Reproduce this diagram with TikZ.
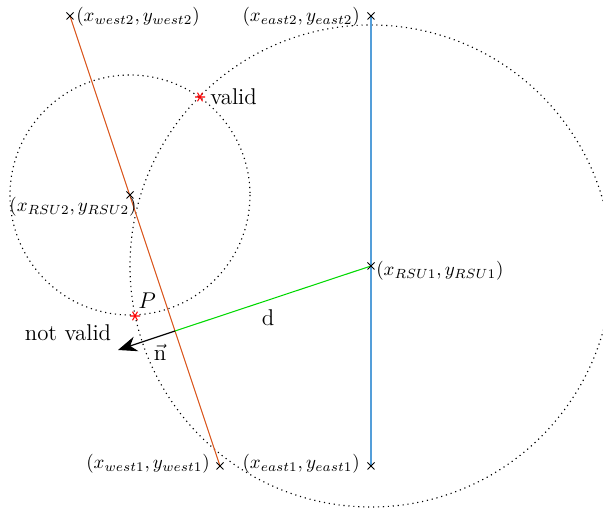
\documentclass[tikz,border=0pt]{standalone}
\usetikzlibrary{arrows.meta,calc}
\definecolor{myblue}{rgb}{0.33,0.62,0.85}
\definecolor{myorange}{rgb}{0.85,0.325,0.098}
\definecolor{mygreen}{rgb}{0,0.85,0}
\tikzset{
  lbl/.style={inner sep=1pt, font=\large},
  tlbl/.style={inner sep=1pt, font=\large},
  mlbl/.style={inner sep=1pt},
  circ/.style={draw=black, dotted, line width=0.6pt},
}
\newcommand{\xmark}[1]{\draw[black, line width=0.5pt] ($(#1)+(-3.5,-3.5)$) -- ($(#1)+(3.5,3.5)$) ($(#1)+(-3.5,3.5)$) -- ($(#1)+(3.5,-3.5)$);}
\newcommand{\starmark}[1]{\draw[red, line width=0.55pt] ($(#1)+(-5,0)$) -- ($(#1)+(5,0)$) ($(#1)+(-2.5,-4.3)$) -- ($(#1)+(2.5,4.3)$) ($(#1)+(-2.5,4.3)$) -- ($(#1)+(2.5,-4.3)$);}
\begin{document}
\begin{tikzpicture}[x=0.5263pt,y=-0.5263pt]
\useasboundingbox (0,0) rectangle (603,508);
\clip (0,0) rectangle (603,508);
\coordinate (W2) at (70,16);
\coordinate (W1) at (220,466);
\coordinate (E2) at (371,16);
\coordinate (E1) at (371,466);
\coordinate (R1) at (371,266);
\coordinate (R2) at (130,195);
\coordinate (P) at (135,316);
\coordinate (V) at (200,97);
\coordinate (F) at (175,331);
\coordinate (N) at (118,350);
% circles
\draw[circ] (R1) circle (241);
\draw[circ] (R2) circle (120);
% lines
\draw[myorange, line width=0.55pt] (W2) -- (W1);
\draw[myblue, line width=0.6pt] (E2) -- (E1);
\draw[mygreen, line width=0.55pt] (R1) -- (F);
\draw[black, line width=0.6pt, -{Stealth[length=10pt,width=8pt]}] (F) -- (N);
% marks
\xmark{W2}\xmark{W1}\xmark{E2}\xmark{E1}\xmark{R1}\xmark{R2}
\starmark{P}\starmark{V}
% labels
\node[mlbl, anchor=west] (lw2) at (74,17) {$(x_{west2},y_{west2})$};
\node[mlbl, anchor=east] (le2) at (362,17) {$(x_{east2},y_{east2})$};
\node[mlbl] (lr2) at (73,207) {$(x_{RSU2},y_{RSU2})$};
\node[mlbl, anchor=west] (lr1) at (374,271) {$(x_{RSU1},y_{RSU1})$};
\node[mlbl, anchor=east] (lw1) at (212,464) {$(x_{west1},y_{west1})$};
\node[mlbl, anchor=east] (le1) at (362,464) {$(x_{east1},y_{east1})$};
\node[tlbl, anchor=west] (lv) at (208,97) {valid};
\node[lbl] (lp) at (147,301) {$P$};
\node[tlbl] (lnv) at (68,333) {not valid};
\node[lbl] (ld) at (268,318) {d};
\node[lbl] (ln) at (160,352) {$\vec{\mathrm{n}}$};
\end{tikzpicture}
\end{document}
